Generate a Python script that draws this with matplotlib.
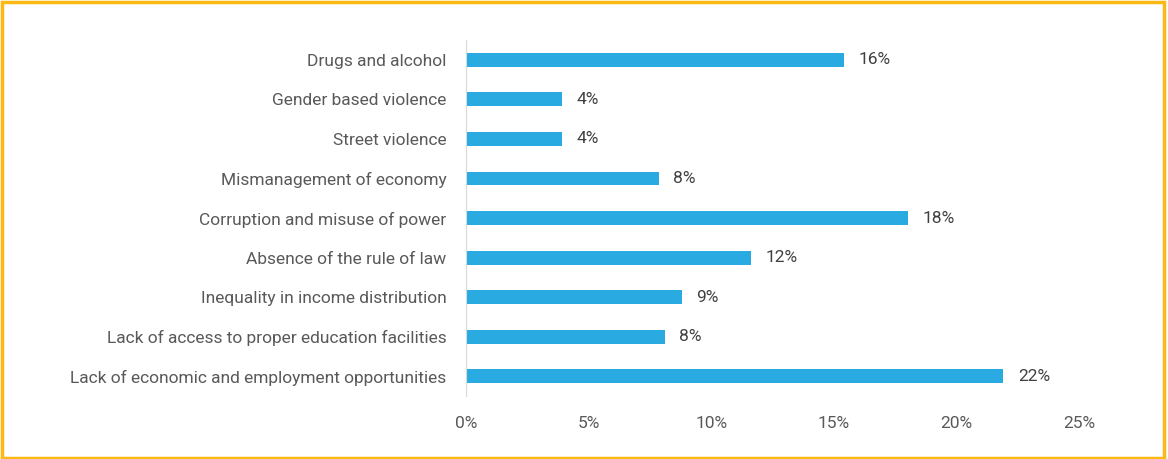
import matplotlib
matplotlib.use("Agg")
import matplotlib.pyplot as plt
from matplotlib.patches import Rectangle

# data, bottom-to-top order as drawn
categories = [
    "Lack of economic and employment opportunities",
    "Lack of access to proper education facilities",
    "Inequality in income distribution",
    "Absence of the rule of law",
    "Corruption and misuse of power",
    "Mismanagement of economy",
    "Street violence",
    "Gender based violence",
    "Drugs and alcohol",
]
values = [21.9, 8.1, 8.8, 11.6, 18.0, 7.85, 3.9, 3.9, 15.4]
value_labels = ["22%", "8%", "9%", "12%", "18%", "8%", "4%", "4%", "16%"]
x_ticks = [0, 5, 10, 15, 20, 25]

plt.rcParams['font.family'] = ['Roboto', 'DejaVu Sans']

fig = plt.figure(figsize=(11.68, 4.59), dpi=100)
ax = fig.add_axes([0.399, 0.137, 0.525, 0.776])

pos = list(range(len(categories)))
ax.barh(pos, values, height=0.35, color="#29ABE2")
for p, v, lab in zip(pos, values, value_labels):
    ax.text(v + 0.6, p, lab, va="center", ha="left", fontsize=12.5,
            color="#404040")

ax.set_xlim(0, 25)
ax.set_ylim(-0.5, len(categories) - 0.5)
ax.set_yticks(pos)
ax.set_yticklabels(categories, fontsize=12.5, color="#595959")
ax.set_xticks(x_ticks)
ax.set_xticklabels([f"{t}%" for t in x_ticks], fontsize=12.5, color="#595959")
ax.tick_params(axis="both", length=0)
ax.tick_params(axis="x", pad=14)
ax.tick_params(axis="y", pad=14)
for s in ["top", "right", "bottom"]:
    ax.spines[s].set_visible(False)
ax.spines["left"].set_color("#D9D9D9")

# orange frame around the whole chart
fig.patches.append(Rectangle((0.002, 0.003), 0.995, 0.992, transform=fig.transFigure,
                             fill=False, edgecolor="#FDB913", linewidth=2.5))

fig.savefig("out.png", dpi=100)
